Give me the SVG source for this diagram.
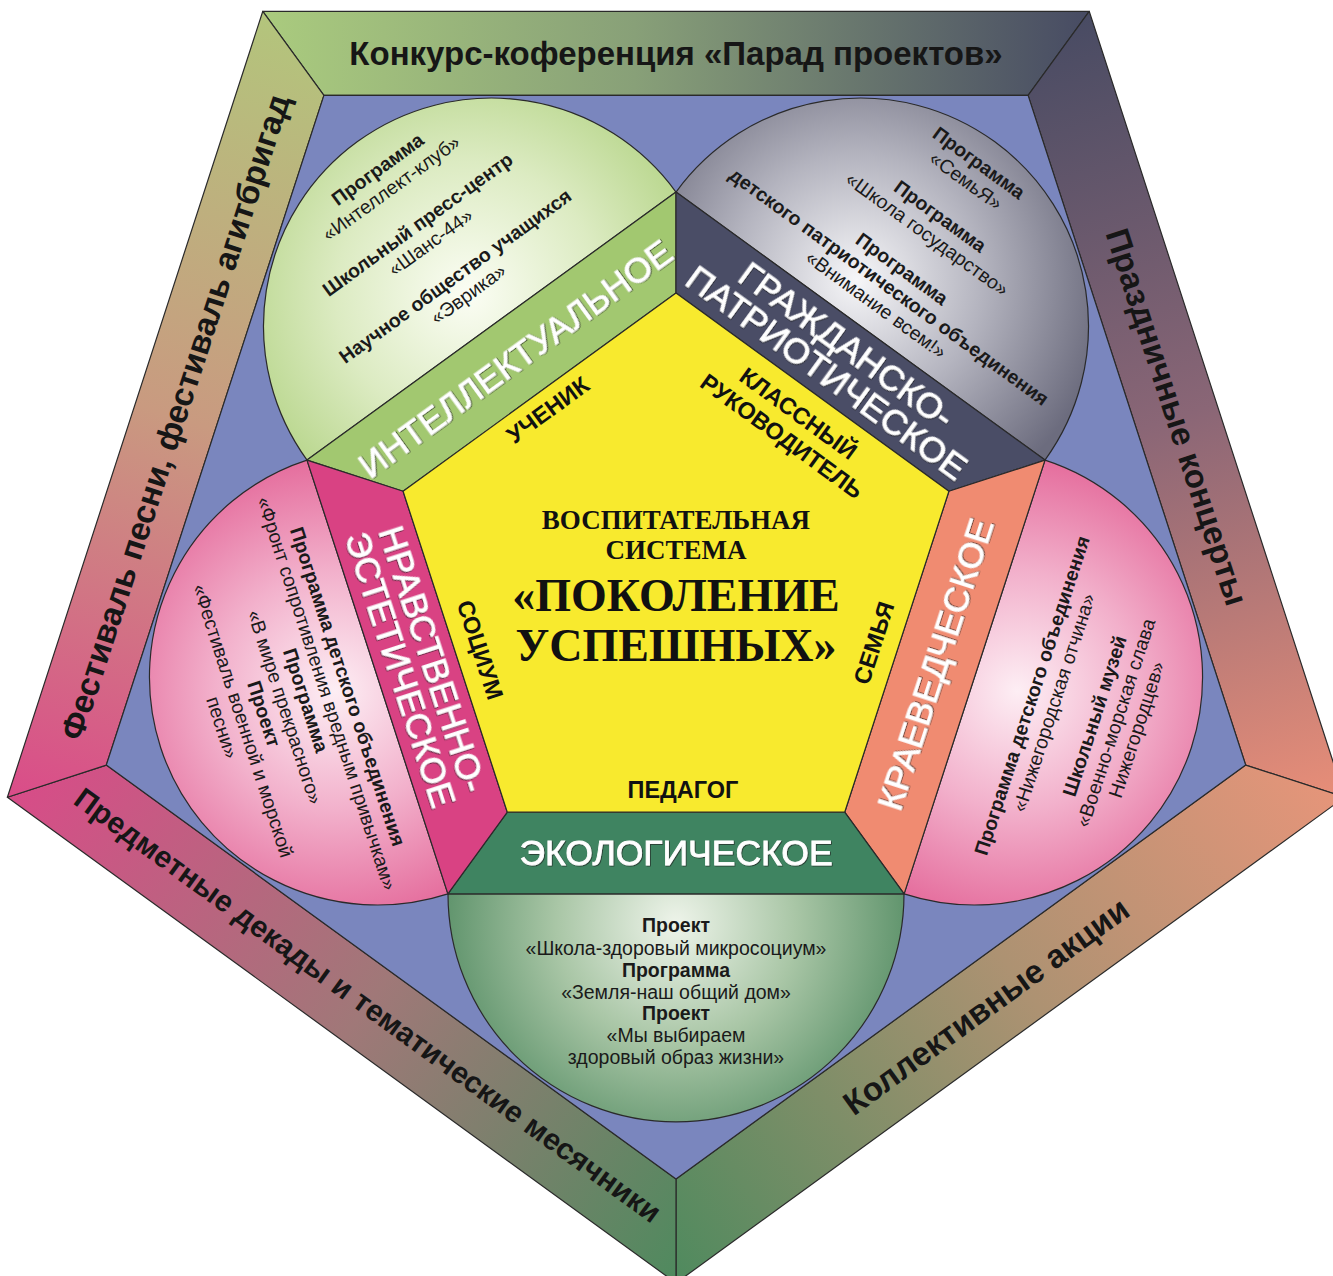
<svg xmlns="http://www.w3.org/2000/svg" width="1333" height="1276" viewBox="0 0 1333 1276">
<style>
 .ln{stroke:#2a2a2a;stroke-width:1.2;stroke-linejoin:round}
 .frm{font-family:"Liberation Sans",Arial,sans-serif;font-weight:bold;font-size:33px;fill:#161616;text-anchor:middle;dominant-baseline:central}
 .frm.sm{font-size:30px}
 .dir{font-family:"Liberation Sans",Arial,sans-serif;font-size:35.5px;fill:#ffffff;stroke:#ffffff;stroke-width:0.8;text-anchor:middle;dominant-baseline:central;filter:url(#shd)}
 .rol{font-family:"Liberation Sans",Arial,sans-serif;font-weight:bold;font-size:23.5px;fill:#111;text-anchor:middle;dominant-baseline:central}
 .ttl{font-family:"Liberation Serif","Times New Roman",serif;font-weight:bold;fill:#111;text-anchor:middle}
 .cb{font-family:"Liberation Sans",Arial,sans-serif;font-weight:bold;font-size:19.5px;fill:#1a1a1a;text-anchor:middle;dominant-baseline:central}
 .cr{font-family:"Liberation Sans",Arial,sans-serif;font-size:19.5px;fill:#1a1a1a;text-anchor:middle;dominant-baseline:central}
</style>
<defs>
 <filter id="shd" x="-10%" y="-30%" width="120%" height="160%">
  <feDropShadow dx="0.8" dy="0.8" stdDeviation="0.7" flood-color="#222" flood-opacity="0.8"/>
 </filter>
 <linearGradient id="gTop" gradientUnits="userSpaceOnUse" x1="263" y1="0" x2="1089" y2="0">
  <stop offset="0" stop-color="#aacb7e"/><stop offset="0.45" stop-color="#88a078"/><stop offset="1" stop-color="#474b63"/>
 </linearGradient>
 <linearGradient id="gRight" gradientUnits="userSpaceOnUse" x1="1089" y1="11" x2="1345" y2="797">
  <stop offset="0" stop-color="#484b63"/><stop offset="0.5" stop-color="#8a6676"/><stop offset="1" stop-color="#e88e78"/>
 </linearGradient>
 <linearGradient id="gBR" gradientUnits="userSpaceOnUse" x1="1345" y1="797" x2="676" y2="1283">
  <stop offset="0" stop-color="#e6957a"/><stop offset="0.45" stop-color="#ad9272"/><stop offset="1" stop-color="#4f8a5e"/>
 </linearGradient>
 <linearGradient id="gBL" gradientUnits="userSpaceOnUse" x1="676" y1="1283" x2="7" y2="797">
  <stop offset="0" stop-color="#4f8a5e"/><stop offset="0.5" stop-color="#a07878"/><stop offset="1" stop-color="#d84c88"/>
 </linearGradient>
 <linearGradient id="gLeft" gradientUnits="userSpaceOnUse" x1="7" y1="797" x2="263" y2="11">
  <stop offset="0" stop-color="#da4c89"/><stop offset="0.5" stop-color="#c99a80"/><stop offset="1" stop-color="#b3c57c"/>
 </linearGradient>
 <radialGradient id="cTL" gradientUnits="userSpaceOnUse" cx="0" cy="-40" r="240">
  <stop offset="0" stop-color="#fbfdf4"/><stop offset="0.55" stop-color="#dcebc2"/><stop offset="1" stop-color="#b8d68c"/>
 </radialGradient>
 <radialGradient id="cTR" gradientUnits="userSpaceOnUse" cx="-30" cy="-35" r="250">
  <stop offset="0" stop-color="#f6f6f8"/><stop offset="0.5" stop-color="#b4b4bf"/><stop offset="1" stop-color="#6c6c7e"/>
 </radialGradient>
 <radialGradient id="cPk" gradientUnits="userSpaceOnUse" cx="0" cy="45" r="240">
  <stop offset="0" stop-color="#fdeef4"/><stop offset="0.5" stop-color="#f2b0cb"/><stop offset="1" stop-color="#e4699a"/>
 </radialGradient>
 <radialGradient id="cB" gradientUnits="userSpaceOnUse" cx="0" cy="30" r="240">
  <stop offset="0" stop-color="#eef4ea"/><stop offset="0.5" stop-color="#a9c6a6"/><stop offset="1" stop-color="#5a9068"/>
 </radialGradient>
</defs>

<g id="outer-frame">
 <g id="band-top">
  <polygon class="ln" fill="url(#gTop)" points="262.8,11.3 1089.2,11.3 1028.1,95.4 323.9,95.4"/>
  <text class="frm" x="676" y="53">Конкурс-коференция «Парад проектов»</text>
 </g>
 <g id="band-right">
  <polygon class="ln" fill="url(#gRight)" points="1089.2,11.3 1344.6,797.2 1245.7,765.1 1028.1,95.4"/>
  <text class="frm" transform="translate(1177,417) rotate(72)" x="0" y="0">Праздничные концерты</text>
 </g>
 <g id="band-bottom-right">
  <polygon class="ln" fill="url(#gBR)" points="1344.6,797.2 676,1283 676,1179 1245.7,765.1"/>
  <text class="frm" transform="translate(986,1006) rotate(-36)" x="0" y="0">Коллективные акции</text>
 </g>
 <g id="band-bottom-left">
  <polygon class="ln" fill="url(#gBL)" points="676,1283 7.4,797.2 106.3,765.1 676,1179"/>
  <text class="frm sm" transform="translate(368,1005) rotate(36)" x="0" y="0">Предметные декады и тематические месячники</text>
 </g>
 <g id="band-left">
  <polygon class="ln" fill="url(#gLeft)" points="7.4,797.2 262.8,11.3 323.9,95.4 106.3,765.1"/>
  <text class="frm" transform="translate(175,417) rotate(-72)" x="0" y="0">Фестиваль песни, фестиваль агитбригад</text>
 </g>
</g>

<polygon id="inner-field" class="ln" fill="#7a86be" points="323.9,95.4 1028.1,95.4 1245.7,765.1 676,1179 106.3,765.1"/>

<g id="circle-intellect" transform="translate(491.5,326.05) rotate(-36)">
 <path class="ln" fill="url(#cTL)" d="M -228 0 A 228 228 0 0 1 228 0 Z"/>
 <text class="cb" x="0" y="-194">Программа</text>
 <text class="cr" x="0" y="-171">«Интеллект-клуб»</text>
 <text class="cb" x="0" y="-126">Школьный пресс-центр</text>
 <text class="cr" x="0" y="-104">«Шанс-44»</text>
 <text class="cb" x="0" y="-62">Научное общество учащихся</text>
 <text class="cr" x="0" y="-40">«Эврика»</text>
</g>

<g id="circle-civil" transform="translate(860.5,326.05) rotate(36)">
 <path class="ln" fill="url(#cTR)" d="M -228 0 A 228 228 0 0 1 228 0 Z"/>
 <text class="cb" x="0" y="-202">Программа</text>
 <text class="cr" x="0" y="-180">«СемьЯ»</text>
 <text class="cb" x="0" y="-136">Программа</text>
 <text class="cr" x="0" y="-114">«Школа государство»</text>
 <text class="cb" x="0" y="-71">Программа</text>
 <text class="cb" x="0" y="-49">детского патриотического объединения</text>
 <text class="cr" x="0" y="-27">«Внимание всем!»</text>
</g>

<g id="circle-local-history" transform="translate(974.55,677) rotate(-72)">
 <path class="ln" fill="url(#cPk)" d="M -228 0 A 228 228 0 0 0 228 0 Z"/>
 <text class="cb" x="0" y="60">Программа детского объединения</text>
 <text class="cr" x="0" y="83">«Нижегородская отчина»</text>
 <text class="cb" x="0" y="126">Школьный музей</text>
 <text class="cr" x="0" y="148">«Военно-морская слава</text>
 <text class="cr" x="0" y="170">Нижегородцев»</text>
</g>

<g id="circle-ecology" transform="translate(676,893.9)">
 <path class="ln" fill="url(#cB)" d="M -228 0 A 228 228 0 0 0 228 0 Z"/>
 <text class="cb" x="0" y="31">Проект</text>
 <text class="cr" x="0" y="54">«Школа-здоровый микросоциум»</text>
 <text class="cb" x="0" y="76">Программа</text>
 <text class="cr" x="0" y="98">«Земля-наш общий дом»</text>
 <text class="cb" x="0" y="119">Проект</text>
 <text class="cr" x="0" y="141">«Мы выбираем</text>
 <text class="cr" x="0" y="163">здоровый образ жизни»</text>
</g>

<g id="circle-moral" transform="translate(377.45,677) rotate(72)">
 <path class="ln" fill="url(#cPk)" d="M -228 0 A 228 228 0 0 0 228 0 Z"/>
 <text class="cb" x="0" y="31">Программа детского объединения</text>
 <text class="cr" x="0" y="53">«Фронт сопротивления вредным привычкам»</text>
 <text class="cb" x="0" y="75">Программа</text>
 <text class="cr" x="0" y="97">«В мире прекрасного»</text>
 <text class="cb" x="0" y="119">Проект</text>
 <text class="cr" x="0" y="141">«Фестиваль военной и морской</text>
 <text class="cr" x="0" y="163">песни»</text>
</g>

<g id="dir-intellect">
 <polygon class="ln" fill="#a2c870" points="307,460.1 676,192 676,293 403.1,491.3"/>
 <text class="dir" transform="translate(515.5,359) rotate(-36)" x="0" y="0">ИНТЕЛЛЕКТУАЛЬНОЕ</text>
</g>
<g id="dir-civil">
 <polygon class="ln" fill="#4a4d66" points="676,192 1045,460.1 948.9,491.3 676,293"/>
 <text class="dir" transform="translate(836.5,359) rotate(36)" x="0" y="-17">ГРАЖДАНСКО-</text>
 <text class="dir" transform="translate(836.5,359) rotate(36)" x="0" y="17">ПАТРИОТИЧЕСКОЕ</text>
</g>
<g id="dir-local-history">
 <polygon class="ln" fill="#f08b71" points="1045,460.1 904.1,893.9 844.7,812.2 948.9,491.3"/>
 <text class="dir" transform="translate(935.6,664.4) rotate(-72)" x="0" y="0">КРАЕВЕДЧЕСКОЕ</text>
</g>
<g id="dir-ecology">
 <polygon class="ln" fill="#3f8461" points="904.1,893.9 447.9,893.9 507.3,812.2 844.7,812.2"/>
 <text class="dir" x="676" y="853">ЭКОЛОГИЧЕСКОЕ</text>
</g>
<g id="dir-moral">
 <polygon class="ln" fill="#d94283" points="447.9,893.9 307,460.1 403.1,491.3 507.3,812.2"/>
 <text class="dir" transform="translate(416.4,664.4) rotate(72)" x="0" y="-17">НРАВСТВЕННО-</text>
 <text class="dir" transform="translate(416.4,664.4) rotate(72)" x="0" y="17">ЭСТЕТИЧЕСКОЕ</text>
</g>

<g id="center">
 <polygon class="ln" fill="#f8ea2e" points="676,293 948.9,491.3 844.7,812.2 507.3,812.2 403.1,491.3"/>
 <text class="ttl" x="676" y="529" font-size="27">ВОСПИТАТЕЛЬНАЯ</text>
 <text class="ttl" x="676" y="559" font-size="27">СИСТЕМА</text>
 <text class="ttl" x="676" y="611" font-size="46">«ПОКОЛЕНИЕ</text>
 <text class="ttl" x="676" y="661" font-size="46">УСПЕШНЫХ»</text>
 <text class="rol" transform="translate(548,410) rotate(-36)" x="0" y="0">УЧЕНИК</text>
 <text class="rol" transform="translate(790,425) rotate(36)" x="0" y="-14">КЛАССНЫЙ</text>
 <text class="rol" transform="translate(790,425) rotate(36)" x="0" y="14">РУКОВОДИТЕЛЬ</text>
 <text class="rol" transform="translate(874,643) rotate(-72)" x="0" y="0">СЕМЬЯ</text>
 <text class="rol" transform="translate(480,650) rotate(72)" x="0" y="0">СОЦИУМ</text>
 <text class="rol" x="683" y="790">ПЕДАГОГ</text>
</g>

<g id="connectors"/>
</svg>
